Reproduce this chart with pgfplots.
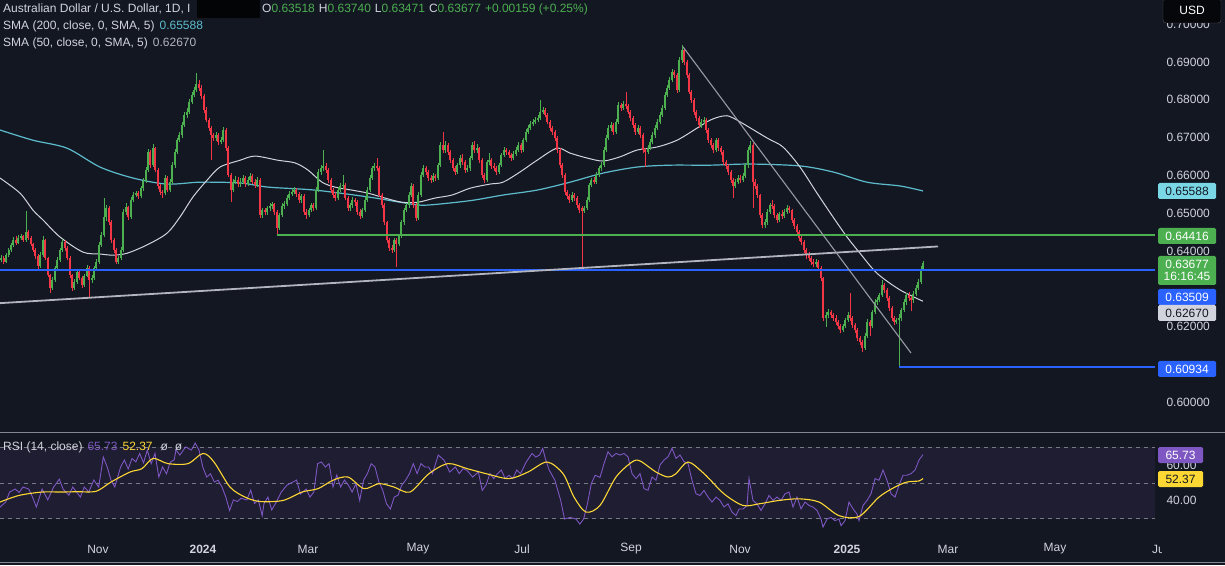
\documentclass[border=0pt]{standalone}
\usepackage{pgfplots}
\pgfplotsset{compat=1.18}
\usepackage{pgfplotstable}
\usepackage{fontspec}
\setmainfont{Liberation Sans}
\definecolor{bg}{HTML}{131722}
\definecolor{upc}{HTML}{4CAF50}
\definecolor{dnc}{HTML}{F23645}
\definecolor{bluc}{HTML}{2962FF}
\definecolor{cyn}{HTML}{5DBCCC}
\definecolor{cynbox}{HTML}{7AD8E6}
\definecolor{sma}{HTML}{D1D4DC}
\definecolor{trend}{HTML}{B2B5BE}
\definecolor{lbl}{HTML}{D1D4DC}
\definecolor{rsi}{HTML}{7E57C2}
\definecolor{rsima}{HTML}{FDD835}
\definecolor{band}{HTML}{1E1D32}
\definecolor{dashc}{HTML}{787B86}
\newcommand{\tvfont}{\fontsize{12}{14}\selectfont}

% daily AUD/USD candles, x = bar position
\pgfplotstableread{
x o h l c
1 0.6376 0.6390 0.6370 0.6381
3.5 0.6381 0.6386 0.6365 0.6371
6 0.6371 0.6394 0.6368 0.6389
8.5 0.6389 0.6408 0.6384 0.6402
11 0.6402 0.6421 0.6398 0.6416
13 0.6416 0.6436 0.6411 0.6429
16 0.6429 0.6440 0.6415 0.6421
18 0.6421 0.6441 0.6418 0.6434
21 0.6434 0.6446 0.6428 0.6439
23 0.6439 0.6443 0.6424 0.6429
26 0.6429 0.6505 0.6425 0.6450
28 0.6450 0.6455 0.6430 0.6434
31 0.6434 0.6440 0.6412 0.6418
33 0.6418 0.6422 0.6396 0.6402
35 0.6402 0.6408 0.6380 0.6387
38 0.6387 0.6391 0.6352 0.6360
40 0.6360 0.6396 0.6356 0.6389
43 0.6389 0.6440 0.6385 0.6429
45 0.6429 0.6432 0.6375 0.6381
48 0.6381 0.6385 0.6330 0.6336
50 0.6336 0.6340 0.6290 0.6302
52 0.6302 0.6330 0.6296 0.6323
55 0.6323 0.6360 0.6318 0.6355
57 0.6355 0.6383 0.6350 0.6376
60 0.6376 0.6408 0.6370 0.6402
62 0.6402 0.6432 0.6398 0.6424
65 0.6424 0.6430 0.6400 0.6408
67 0.6408 0.6412 0.6375 0.6381
70 0.6381 0.6386 0.6328 0.6336
72 0.6336 0.6340 0.6295 0.6302
74 0.6302 0.6325 0.6296 0.6318
77 0.6318 0.6350 0.6312 0.6344
79 0.6344 0.6352 0.6322 0.6328
82 0.6328 0.6335 0.6303 0.6310
84 0.6310 0.6340 0.6306 0.6334
87 0.6334 0.6362 0.6330 0.6355
89 0.6355 0.6360 0.6278 0.6323
92 0.6323 0.6336 0.6315 0.6328
94 0.6328 0.6360 0.6322 0.6355
96 0.6355 0.6378 0.6350 0.6371
99 0.6371 0.6424 0.6366 0.6416
101 0.6416 0.6450 0.6410 0.6442
104 0.6442 0.6540 0.6436 0.6489
106 0.6489 0.6522 0.6480 0.6513
109 0.6513 0.6518 0.6470 0.6476
111 0.6476 0.6482 0.6422 0.6429
114 0.6429 0.6434 0.6395 0.6402
116 0.6402 0.6408 0.6365 0.6371
118 0.6371 0.6388 0.6366 0.6381
121 0.6381 0.6410 0.6376 0.6402
123 0.6402 0.6510 0.6398 0.6503
126 0.6503 0.6528 0.6496 0.6516
128 0.6516 0.6520 0.6482 0.6489
131 0.6489 0.6542 0.6485 0.6535
133 0.6535 0.6556 0.6530 0.6548
136 0.6548 0.6560 0.6542 0.6553
138 0.6553 0.6558 0.6538 0.6545
141 0.6545 0.6572 0.6540 0.6566
143 0.6566 0.6592 0.6560 0.6585
146 0.6585 0.6622 0.6580 0.6614
148 0.6614 0.6670 0.6608 0.6662
150 0.6662 0.6668 0.6620 0.6627
153 0.6627 0.6682 0.6622 0.6672
155 0.6672 0.6676 0.6608 0.6614
158 0.6614 0.6620 0.6565 0.6572
160 0.6572 0.6578 0.6548 0.6556
162 0.6556 0.6562 0.6540 0.6553
165 0.6553 0.6600 0.6548 0.6593
167 0.6593 0.6598 0.6555 0.6561
170 0.6561 0.6590 0.6556 0.6582
172 0.6582 0.6635 0.6578 0.6627
175 0.6627 0.6670 0.6620 0.6662
177 0.6662 0.6700 0.6656 0.6693
179 0.6693 0.6716 0.6688 0.6707
182 0.6707 0.6740 0.6700 0.6733
184 0.6733 0.6768 0.6728 0.6760
187 0.6760 0.6778 0.6752 0.6768
189 0.6768 0.6802 0.6762 0.6794
192 0.6794 0.6820 0.6788 0.6813
194 0.6813 0.6835 0.6808 0.6826
196 0.6826 0.6871 0.6820 0.6842
199 0.6842 0.6852 0.6824 0.6831
201 0.6831 0.6838 0.6802 0.6810
204 0.6810 0.6815 0.6766 0.6773
206 0.6773 0.6780 0.6740 0.6746
209 0.6746 0.6752 0.6718 0.6725
211 0.6725 0.6730 0.6640 0.6707
213 0.6707 0.6712 0.6690 0.6699
216 0.6699 0.6716 0.6692 0.6707
218 0.6707 0.6712 0.6680 0.6688
221 0.6688 0.6702 0.6682 0.6693
223 0.6693 0.6728 0.6688 0.6720
226 0.6720 0.6726 0.6665 0.6672
228 0.6672 0.6678 0.6595 0.6601
231 0.6601 0.6606 0.6530 0.6561
233 0.6561 0.6590 0.6555 0.6582
235 0.6582 0.6598 0.6576 0.6587
238 0.6587 0.6595 0.6570 0.6577
240 0.6577 0.6592 0.6570 0.6582
243 0.6582 0.6600 0.6576 0.6593
245 0.6593 0.6598 0.6570 0.6577
248 0.6577 0.6595 0.6572 0.6587
250 0.6587 0.6606 0.6582 0.6598
252 0.6598 0.6603 0.6576 0.6582
255 0.6582 0.6590 0.6566 0.6574
257 0.6574 0.6596 0.6568 0.6587
260 0.6587 0.6592 0.6488 0.6495
262 0.6495 0.6515 0.6488 0.6508
265 0.6508 0.6514 0.6494 0.6503
267 0.6503 0.6520 0.6496 0.6513
270 0.6513 0.6526 0.6505 0.6519
272 0.6519 0.6530 0.6510 0.6524
274 0.6524 0.6528 0.6496 0.6503
277 0.6503 0.6508 0.6442 0.6460
279 0.6460 0.6500 0.6455 0.6495
282 0.6495 0.6526 0.6490 0.6519
284 0.6519 0.6532 0.6512 0.6524
287 0.6524 0.6548 0.6518 0.6540
289 0.6540 0.6558 0.6535 0.6550
292 0.6550 0.6566 0.6545 0.6556
294 0.6556 0.6570 0.6550 0.6561
296 0.6561 0.6566 0.6543 0.6550
299 0.6550 0.6555 0.6528 0.6535
301 0.6535 0.6552 0.6528 0.6545
304 0.6545 0.6550 0.6496 0.6503
306 0.6503 0.6510 0.6485 0.6495
309 0.6495 0.6515 0.6490 0.6508
311 0.6508 0.6528 0.6502 0.6521
313 0.6521 0.6526 0.6506 0.6513
316 0.6513 0.6568 0.6508 0.6561
318 0.6561 0.6616 0.6555 0.6609
321 0.6609 0.6628 0.6602 0.6619
323 0.6619 0.6667 0.6612 0.6625
326 0.6625 0.6632 0.6606 0.6614
328 0.6614 0.6620 0.6580 0.6587
331 0.6587 0.6592 0.6554 0.6561
333 0.6561 0.6566 0.6540 0.6548
335 0.6548 0.6555 0.6532 0.6540
338 0.6540 0.6568 0.6535 0.6561
340 0.6561 0.6580 0.6556 0.6572
343 0.6572 0.6600 0.6565 0.6574
345 0.6574 0.6580 0.6534 0.6540
348 0.6540 0.6546 0.6505 0.6513
350 0.6513 0.6528 0.6506 0.6521
352 0.6521 0.6542 0.6515 0.6535
355 0.6535 0.6540 0.6520 0.6529
357 0.6529 0.6535 0.6496 0.6503
360 0.6503 0.6510 0.6485 0.6492
362 0.6492 0.6515 0.6488 0.6508
365 0.6508 0.6542 0.6502 0.6535
367 0.6535 0.6568 0.6530 0.6561
370 0.6561 0.6600 0.6555 0.6593
372 0.6593 0.6626 0.6588 0.6619
374 0.6619 0.6634 0.6612 0.6625
377 0.6625 0.6646 0.6612 0.6619
379 0.6619 0.6624 0.6542 0.6548
382 0.6548 0.6553 0.6514 0.6521
384 0.6521 0.6526 0.6470 0.6476
387 0.6476 0.6480 0.6422 0.6429
389 0.6429 0.6434 0.6400 0.6408
392 0.6408 0.6415 0.6394 0.6402
394 0.6402 0.6435 0.6398 0.6429
396 0.6429 0.6434 0.6357 0.6418
399 0.6418 0.6445 0.6412 0.6439
401 0.6439 0.6482 0.6434 0.6476
404 0.6476 0.6515 0.6470 0.6508
406 0.6508 0.6528 0.6502 0.6521
409 0.6521 0.6555 0.6515 0.6548
411 0.6548 0.6580 0.6542 0.6572
413 0.6572 0.6576 0.6515 0.6521
416 0.6521 0.6526 0.6478 0.6487
418 0.6487 0.6555 0.6482 0.6548
421 0.6548 0.6608 0.6542 0.6601
423 0.6601 0.6628 0.6596 0.6619
426 0.6619 0.6624 0.6600 0.6609
428 0.6609 0.6614 0.6586 0.6593
431 0.6593 0.6600 0.6580 0.6587
433 0.6587 0.6605 0.6582 0.6598
435 0.6598 0.6604 0.6585 0.6593
438 0.6593 0.6634 0.6588 0.6627
440 0.6627 0.6688 0.6622 0.6680
443 0.6680 0.6715 0.6660 0.6667
445 0.6667 0.6690 0.6660 0.6680
448 0.6680 0.6686 0.6655 0.6662
450 0.6662 0.6668 0.6632 0.6640
453 0.6640 0.6645 0.6612 0.6619
455 0.6619 0.6625 0.6600 0.6609
457 0.6609 0.6634 0.6603 0.6627
460 0.6627 0.6654 0.6620 0.6646
462 0.6646 0.6656 0.6628 0.6635
465 0.6635 0.6640 0.6606 0.6614
467 0.6614 0.6628 0.6608 0.6619
470 0.6619 0.6652 0.6612 0.6646
472 0.6646 0.6688 0.6640 0.6680
474 0.6680 0.6690 0.6660 0.6667
477 0.6667 0.6682 0.6660 0.6672
479 0.6672 0.6676 0.6632 0.6640
482 0.6640 0.6645 0.6594 0.6601
484 0.6601 0.6606 0.6580 0.6587
487 0.6587 0.6642 0.6582 0.6635
489 0.6635 0.6660 0.6628 0.6640
491 0.6640 0.6646 0.6618 0.6625
494 0.6625 0.6632 0.6612 0.6619
496 0.6619 0.6624 0.6600 0.6609
499 0.6609 0.6634 0.6603 0.6627
501 0.6627 0.6660 0.6622 0.6654
504 0.6654 0.6674 0.6648 0.6667
506 0.6667 0.6672 0.6655 0.6662
509 0.6662 0.6668 0.6647 0.6654
511 0.6654 0.6660 0.6638 0.6646
513 0.6646 0.6664 0.6640 0.6656
516 0.6656 0.6674 0.6650 0.6667
518 0.6667 0.6688 0.6662 0.6680
521 0.6680 0.6685 0.6660 0.6667
523 0.6667 0.6700 0.6662 0.6693
526 0.6693 0.6722 0.6688 0.6715
528 0.6715 0.6732 0.6710 0.6725
530 0.6725 0.6744 0.6720 0.6736
533 0.6736 0.6750 0.6730 0.6741
535 0.6741 0.6754 0.6735 0.6746
538 0.6746 0.6760 0.6740 0.6752
540 0.6752 0.6799 0.6746 0.6768
543 0.6768 0.6782 0.6762 0.6773
545 0.6773 0.6778 0.6754 0.6760
547 0.6760 0.6766 0.6735 0.6741
550 0.6741 0.6746 0.6718 0.6725
552 0.6725 0.6730 0.6708 0.6715
555 0.6715 0.6720 0.6692 0.6699
557 0.6699 0.6704 0.6660 0.6667
560 0.6667 0.6672 0.6620 0.6627
562 0.6627 0.6632 0.6594 0.6601
565 0.6601 0.6606 0.6548 0.6556
567 0.6556 0.6562 0.6538 0.6545
569 0.6545 0.6552 0.6528 0.6535
572 0.6535 0.6556 0.6530 0.6548
574 0.6548 0.6554 0.6532 0.6540
577 0.6540 0.6545 0.6514 0.6521
579 0.6521 0.6526 0.6500 0.6508
582 0.6515 0.6520 0.6350 0.6506
584 0.6506 0.6520 0.6500 0.6513
587 0.6513 0.6542 0.6508 0.6535
589 0.6535 0.6580 0.6530 0.6574
591 0.6574 0.6594 0.6568 0.6587
594 0.6587 0.6595 0.6576 0.6582
596 0.6582 0.6608 0.6576 0.6601
599 0.6601 0.6626 0.6596 0.6619
601 0.6619 0.6635 0.6612 0.6627
604 0.6627 0.6674 0.6622 0.6667
606 0.6667 0.6706 0.6662 0.6699
608 0.6699 0.6732 0.6694 0.6725
611 0.6725 0.6740 0.6718 0.6733
613 0.6733 0.6738 0.6708 0.6715
616 0.6715 0.6748 0.6710 0.6741
618 0.6741 0.6794 0.6736 0.6786
621 0.6786 0.6792 0.6770 0.6778
623 0.6778 0.6798 0.6772 0.6789
626 0.6789 0.6821 0.6776 0.6784
628 0.6784 0.6790 0.6762 0.6768
630 0.6768 0.6774 0.6745 0.6752
633 0.6752 0.6758 0.6726 0.6733
635 0.6733 0.6738 0.6708 0.6715
638 0.6715 0.6732 0.6710 0.6725
640 0.6725 0.6730 0.6700 0.6707
643 0.6707 0.6712 0.6660 0.6667
645 0.6667 0.6672 0.6622 0.6662
648 0.6662 0.6680 0.6656 0.6672
650 0.6672 0.6695 0.6666 0.6688
652 0.6688 0.6714 0.6682 0.6707
655 0.6707 0.6732 0.6700 0.6725
657 0.6725 0.6748 0.6720 0.6741
660 0.6741 0.6768 0.6735 0.6760
662 0.6760 0.6786 0.6754 0.6778
665 0.6778 0.6820 0.6772 0.6813
667 0.6813 0.6840 0.6808 0.6831
669 0.6831 0.6860 0.6826 0.6852
672 0.6852 0.6882 0.6846 0.6874
674 0.6874 0.6880 0.6858 0.6866
677 0.6866 0.6872 0.6818 0.6826
679 0.6826 0.6912 0.6820 0.6905
682 0.6905 0.6945 0.6898 0.6932
684 0.6932 0.6938 0.6892 0.6900
687 0.6900 0.6905 0.6858 0.6866
689 0.6866 0.6872 0.6814 0.6821
691 0.6821 0.6826 0.6792 0.6799
694 0.6799 0.6804 0.6760 0.6768
696 0.6768 0.6774 0.6745 0.6752
699 0.6752 0.6758 0.6726 0.6733
701 0.6733 0.6748 0.6726 0.6741
704 0.6741 0.6754 0.6735 0.6746
706 0.6746 0.6752 0.6712 0.6720
708 0.6720 0.6726 0.6686 0.6693
711 0.6693 0.6700 0.6672 0.6680
713 0.6680 0.6686 0.6660 0.6667
716 0.6667 0.6700 0.6662 0.6693
718 0.6693 0.6698 0.6665 0.6672
721 0.6672 0.6678 0.6655 0.6662
723 0.6662 0.6668 0.6628 0.6635
726 0.6635 0.6640 0.6618 0.6625
728 0.6625 0.6630 0.6602 0.6609
731 0.6609 0.6614 0.6580 0.6587
733 0.6587 0.6592 0.6540 0.6572
735 0.6572 0.6590 0.6566 0.6582
738 0.6582 0.6600 0.6576 0.6593
740 0.6593 0.6600 0.6580 0.6587
743 0.6587 0.6605 0.6582 0.6598
745 0.6598 0.6634 0.6592 0.6627
748 0.6627 0.6674 0.6620 0.6667
750 0.6667 0.6690 0.6660 0.6680
753 0.6680 0.6686 0.6515 0.6582
755 0.6582 0.6590 0.6565 0.6572
757 0.6572 0.6578 0.6540 0.6548
760 0.6548 0.6552 0.6488 0.6495
762 0.6495 0.6500 0.6460 0.6468
765 0.6468 0.6484 0.6462 0.6476
767 0.6476 0.6510 0.6470 0.6503
770 0.6503 0.6528 0.6498 0.6521
772 0.6521 0.6534 0.6512 0.6519
774 0.6519 0.6524 0.6488 0.6495
777 0.6495 0.6500 0.6475 0.6482
779 0.6482 0.6504 0.6476 0.6497
782 0.6497 0.6508 0.6485 0.6492
784 0.6492 0.6510 0.6486 0.6503
787 0.6503 0.6522 0.6498 0.6513
789 0.6513 0.6520 0.6500 0.6508
792 0.6508 0.6512 0.6475 0.6482
794 0.6482 0.6488 0.6458 0.6466
797 0.6466 0.6472 0.6442 0.6450
799 0.6450 0.6456 0.6426 0.6434
801 0.6434 0.6440 0.6416 0.6424
804 0.6424 0.6430 0.6395 0.6402
806 0.6402 0.6408 0.6380 0.6389
809 0.6389 0.6396 0.6374 0.6381
811 0.6381 0.6386 0.6364 0.6371
813 0.6371 0.6378 0.6358 0.6365
816 0.6365 0.6380 0.6358 0.6371
818 0.6371 0.6376 0.6348 0.6355
821 0.6355 0.6360 0.6320 0.6328
823 0.6328 0.6332 0.6215 0.6222
826 0.6222 0.6238 0.6200 0.6230
828 0.6230 0.6246 0.6224 0.6238
831 0.6238 0.6244 0.6222 0.6230
833 0.6230 0.6236 0.6215 0.6222
836 0.6222 0.6230 0.6205 0.6212
838 0.6212 0.6218 0.6194 0.6201
840 0.6201 0.6206 0.6182 0.6191
843 0.6191 0.6208 0.6185 0.6201
845 0.6201 0.6224 0.6196 0.6217
848 0.6217 0.6238 0.6212 0.6230
850 0.6230 0.6290 0.6215 0.6222
852 0.6222 0.6228 0.6196 0.6204
855 0.6204 0.6210 0.6184 0.6191
857 0.6191 0.6196 0.6162 0.6169
860 0.6169 0.6175 0.6150 0.6159
862 0.6159 0.6164 0.6134 0.6143
865 0.6143 0.6182 0.6138 0.6175
867 0.6175 0.6220 0.6170 0.6212
870 0.6212 0.6218 0.6175 0.6201
872 0.6201 0.6245 0.6196 0.6238
875 0.6238 0.6272 0.6232 0.6265
877 0.6265 0.6278 0.6258 0.6270
879 0.6270 0.6290 0.6264 0.6283
882 0.6283 0.6322 0.6278 0.6310
884 0.6310 0.6316 0.6290 0.6297
887 0.6297 0.6302 0.6268 0.6275
889 0.6275 0.6280 0.6242 0.6249
892 0.6249 0.6254 0.6215 0.6222
894 0.6222 0.6228 0.6204 0.6212
896 0.6212 0.6224 0.6206 0.6217
899 0.6217 0.6232 0.6093 0.6222
901 0.6222 0.6250 0.6216 0.6244
904 0.6244 0.6272 0.6238 0.6265
906 0.6265 0.6290 0.6258 0.6283
909 0.6283 0.6292 0.6268 0.6275
911 0.6275 0.6282 0.6240 0.6270
913 0.6270 0.6294 0.6262 0.6286
916 0.6286 0.6310 0.6280 0.6302
918 0.6302 0.6326 0.6296 0.6318
921 0.6318 0.6360 0.6312 0.6352
923 0.63518 0.63740 0.63471 0.63677
}\candles

\pgfplotstableread{
x v
0 0.6720
33 0.6693
67 0.6672
100 0.6622
133 0.6593
167 0.6577
200 0.6582
240 0.6580
268 0.6569
315 0.6561
368 0.6543
400 0.6529
422 0.6521
450 0.6527
475 0.6535
503 0.6548
537 0.6561
570 0.6582
603 0.6606
637 0.6622
670 0.6627
710 0.6627
750 0.6630
800 0.6625
833 0.6609
867 0.6582
900 0.6572
923 0.65588
}\smaLong

\pgfplotstableread{
x v
0 0.6593
20 0.6553
33 0.6508
43 0.6482
60 0.6437
83 0.6397
100 0.6392
113 0.6389
127 0.6394
147 0.6416
167 0.6447
180 0.6490
193 0.6543
207 0.6587
220 0.6622
240 0.6640
255 0.6651
278 0.6640
295 0.6633
308 0.6614
322 0.6582
335 0.6569
352 0.6561
368 0.6553
385 0.6540
402 0.6529
418 0.6529
435 0.6540
452 0.6548
470 0.6566
490 0.6577
503 0.6582
520 0.6609
537 0.6640
557 0.6672
570 0.6659
587 0.6646
603 0.6638
620 0.6649
637 0.6667
657 0.6675
677 0.6693
697 0.6725
710 0.6746
723 0.6757
733 0.6752
767 0.6699
783 0.6675
800 0.6622
817 0.6553
833 0.6490
847 0.6437
860 0.6394
877 0.6341
900 0.6297
923 0.62670
}\smaShort

\pgfplotstableread{
x v
0 36.4
5.7 39.2
9.6 44.8
15.3 46.5
19.1 44.5
23 47.6
28.7 46.5
32.5 42
36.4 36.4
42.1 46.5
47.8 40.4
53.6 47.6
59.3 52
63.1 46.5
68.9 43
72.7 47.6
76.5 44.8
80.4 42
84.2 47.6
88.8 44.8
93.8 51.5
98.7 47.6
103.3 64.4
107.2 58.8
111 51.5
114.8 47.6
120.6 58.8
124.4 62.7
128.2 57.7
132 63.6
135.9 61.7
139.7 66.4
143.5 61.1
147.3 68.3
151.2 60.7
155 66.4
158.8 53.2
162.6 58.8
166.5 55
170.3 61.6
174.1 62.7
176 68.3
179.9 65.5
185.6 70
191.4 68.3
195.2 72.2
199 68.3
202.8 58.8
206.7 53.2
210.5 55
214.3 50.4
218.1 51.4
222 47.6
225.8 42
229.6 34.5
233.4 40.4
237.3 39.5
241.1 41.3
246.8 40.4
250.7 45.9
254.5 38.4
258.3 40.4
262.2 31.6
264 38.4
267.9 42
271.7 34.8
275.5 38.4
281.3 44.8
287 48.7
292.8 50.4
296.6 51.5
300.4 43.7
306.2 46.5
310 42
313.8 44.8
317.6 60.7
321.5 61.6
325.3 58.8
329.1 60.7
333 47.6
336.8 54.3
340.6 47.6
344.4 51.5
348.3 48.7
352.1 44.8
355.9 49.5
359.7 40.1
363.6 51.5
367.4 55.1
371.2 60.7
375 58.8
378.9 50.4
382.7 45.9
386.5 38.2
390.4 35.3
394.2 42
398 43
401.8 48.7
405.7 51.5
409.5 55.1
413.3 60.7
417.1 55.1
421 60.7
424.8 58.8
428.6 58.8
432.5 55.1
438.2 65.5
444 62.7
449.7 56
455.4 58.8
459.2 55.1
463.1 57.9
466.9 57
472.6 53.2
478.4 56
482.2 45.7
486 48.7
489.9 55.1
493.7 52.3
497.5 55.1
501.3 57.1
505.2 52.3
509 54.2
512.8 52.3
516.7 57.1
520.5 55.1
526.2 61.6
532 66.4
535.8 64.4
539.6 65.5
542.7 69.2
545.3 63.6
549.2 57.1
554.9 51.4
560.7 40.1
564.5 29.7
570.2 30.6
576 29.7
579.8 26.9
583.6 29.7
587.4 38.2
591.3 49.5
595.1 54.2
600 53
604 60.7
608 67.3
612 64.5
616 66.4
620 65.5
624 66.4
628 64.5
632 55.1
636 52.3
640 55.1
644 46.7
648 45.8
652 53.2
656 51.4
660 59.9
664 62.7
668 64.5
672 69.2
676 63.6
680 65.5
684 61.8
688 60.8
692 51.4
696 43.8
700 42.9
704 45.7
708 42
712 39.2
716 42
720 40.1
724 36.4
728 38.2
732 33.6
736 31.6
739 35.3
743 35.3
747 37.2
749 52.3
753 40.1
757 38.2
761 34.5
765 38.2
769 42.9
773 40.1
777 42
781 40.1
785 43.8
789 44.8
793 36.4
797 42
801 35.4
805 39.2
809 37.3
813 36.4
817 34.5
821 29.7
823 25.2
827 29.7
831 30.6
835 28.8
839 29.7
841 26
845 28.8
849 39.2
853 35.4
857 32.5
859 28.8
863 37.3
867 40.1
871 43.8
875 52.3
879 51.4
883 57.1
887 51.4
891 43.8
895 42
899 48.6
903 54.2
907 54.2
911 55.1
915 57.1
919 62.7
923 65.73
}\rsiline

\pgfplotstableread{
x v
0 39.2
19 42.9
42 44.8
61 44.8
77 45
96 45.2
111 50.4
130 56
142 57.9
153 63.6
168 60.7
188 60.7
203 66.4
214 61.6
230 47.6
245 42
260 39.5
283 40.1
302 44.8
318 46.7
333 51.4
348 53.2
364 46.7
379 49.5
394 47.6
410 44.8
429 55.1
448 60.7
467 57.9
486 55.1
509 52.3
528 56
547 61.6
563 55.1
574 42
586 33.6
600 37.3
616 53.2
632 61.6
640 62.2
656 56
668 53.2
676 55.1
688 61.6
704 55.1
724 43.8
743 37.3
759 38.2
779 40.1
799 41
819 39.2
839 31.6
859 31.1
879 42
895 47.6
907 50.4
919 51
923 52.37
}\rsima

\begin{document}
\begin{tikzpicture}[x=1pt,y=1pt]
\fill[bg] (0,0) rectangle (1225,565);
\useasboundingbox (0,0) rectangle (1225,565);

% price panel
\begin{axis}[at={(0pt,565pt)}, anchor=north west, scale only axis,
  width=1155pt, height=432pt,
  xmin=0, xmax=1155, ymin=0.59211, ymax=0.70640,
  axis line style={draw=none}, tick style={draw=none},
  xtick=\empty, ytick={0.60,0.62,0.64,0.65,0.66,0.67,0.68,0.69,0.70},
  yticklabel pos=right,
  yticklabel style={anchor=west, xshift=8pt, text=lbl, font=\tvfont,
    /pgf/number format/.cd, fixed, fixed zerofill, precision=5, assume math mode=true}]

  % moving averages
  \addplot[draw=cyn, line width=1.2pt, smooth] table[x=x, y=v] {\smaLong};
  \addplot[draw=sma, line width=1pt, smooth] table[x=x, y=v] {\smaShort};

  % candles: wicks low->high, bodies open->close
  \addplot[draw=upc, line width=1pt, line cap=butt, restrict expr to domain={\thisrow{c}-\thisrow{o}}{0:1},
    quiver={u=0, v={\thisrow{h}-\thisrow{l}}}]
    table[x=x, y=l] {\candles};
  \addplot[draw=dnc, line width=1pt, line cap=butt, restrict expr to domain={\thisrow{c}-\thisrow{o}}{-1:-0.000001},
    quiver={u=0, v={\thisrow{h}-\thisrow{l}}}]
    table[x=x, y=l] {\candles};
  \addplot[draw=upc, line width=2pt, line cap=butt, restrict expr to domain={\thisrow{c}-\thisrow{o}}{0:1},
    quiver={u=0, v={\thisrow{c}-\thisrow{o}}}]
    table[x=x, y=o] {\candles};
  \addplot[draw=dnc, line width=2pt, line cap=butt, restrict expr to domain={\thisrow{c}-\thisrow{o}}{-1:-0.000001},
    quiver={u=0, v={\thisrow{c}-\thisrow{o}}}]
    table[x=x, y=o] {\candles};

  % levels and trend lines
  \addplot[draw=bluc, line width=2pt] coordinates {(0,0.63509) (1155,0.63509)};
  \addplot[draw=upc, line width=2pt] coordinates {(277,0.64416) (1155,0.64416)};
  \addplot[draw=bluc, line width=2pt] coordinates {(899,0.60934) (1155,0.60934)};
  \addplot[draw=trend, line width=1.8pt] coordinates {(0,0.6262) (938,0.6412)};
  \addplot[draw=trend!85!black, line width=1.1pt] coordinates {(683,0.6940) (911,0.6130)};
\end{axis}

% RSI panel
\begin{axis}[at={(0pt,132pt)}, anchor=north west, scale only axis,
  width=1155pt, height=102pt,
  xmin=0, xmax=1155, ymin=20.77, ymax=77.83,
  axis line style={draw=none}, tick style={draw=none},
  xtick={98,203,308,418,522,631,740,847,948,1055},
  xticklabels={Nov,\textbf{2024},Mar,May,Jul,Sep,Nov,\textbf{2025},Mar,May},
  xticklabel style={anchor=center, yshift=-14pt, text=lbl, font=\tvfont},
  ytick={40,60}, yticklabel pos=right,
  yticklabel style={anchor=west, xshift=8pt, text=lbl, font=\tvfont,
    /pgf/number format/.cd, fixed, fixed zerofill, precision=2, assume math mode=true}]
  \fill[band] (axis cs:0,30) rectangle (axis cs:1155,70);
  \draw[dashc, dash pattern=on 4pt off 4pt] (axis cs:0,70) -- (axis cs:1155,70);
  \draw[dashc, dash pattern=on 4pt off 4pt] (axis cs:0,50) -- (axis cs:1155,50);
  \draw[dashc, dash pattern=on 4pt off 4pt] (axis cs:0,30) -- (axis cs:1155,30);
  \addplot[draw=rsi, line width=0.9pt] table[x=x, y=v] {\rsiline};
  \addplot[draw=rsima, line width=1.1pt, smooth] table[x=x, y=v] {\rsima};
\end{axis}

% panel separators
\draw[trend!70!bg, line width=1pt] (0,133) -- (1225,133);
\draw[trend!70!bg, line width=1pt] (0,3) -- (1225,3);

% Ju cut by the price scale
\begin{scope}
  \clip (1140,0) rectangle (1161,40);
  \node[text=lbl, font=\tvfont, anchor=west, inner sep=0] at (1152,16) {Jun};
\end{scope}

% header
\begin{scope}[every node/.style={anchor=west, inner sep=0, font=\tvfont, text=lbl}]
  \node at (3,556) {Australian Dollar / U.S. Dollar, 1D, I};
  \fill[black!85!bg] (197,547) rectangle (260,565);
  \node at (262,556) {O\textcolor{upc}{0.63518}\hspace{4pt}H\textcolor{upc}{0.63740}\hspace{4pt}L\textcolor{upc}{0.63471}\hspace{4pt}C\textcolor{upc}{0.63677}\hspace{4pt}\textcolor{upc}{+0.00159 (+0.25\%)}};
  \node at (3,539) {SMA (200, close, 0, SMA, 5)\hspace{5pt}\textcolor{cyn}{0.65588}};
  \node at (3,522) {SMA (50, close, 0, SMA, 5)\hspace{5pt}\textcolor{trend}{0.62670}};
  \node at (3,118) {RSI (14, close)\hspace{5pt}\textcolor{rsi}{65.73}\hspace{5pt}\textcolor{rsima}{52.37}\hspace{8pt}ø\hspace{7pt}ø};
\end{scope}

% price scale labels
\begin{scope}[every node/.style={inner sep=0, minimum width=58pt, minimum height=16pt,
    font=\tvfont, rounded corners=1.5pt}]
  \node[fill=cynbox, text=bg] at (1187,374) {0.65588};
  \node[fill=upc, text=white] at (1187,329) {0.64416};
  \node[fill=upc, text=white, minimum height=29pt, align=center] at (1187,294.5) {0.63677\\[-2pt]16:16:45};
  \node[fill=bluc, text=white] at (1187,268) {0.63509};
  \node[fill=sma, text=bg] at (1187,252) {0.62670};
  \node[fill=bluc, text=white] at (1187,196) {0.60934};
  \node[fill=rsi, text=white, minimum width=45pt] at (1180.5,110) {65.73};
  \node[fill=rsima, text=bg, minimum width=45pt] at (1180.5,86) {52.37};
  \node[draw=dashc!60!bg, fill=black!70!bg, text=white, minimum width=58pt, minimum height=25pt, rounded corners=3pt] at (1192,554.5) {USD};
\end{scope}
\end{tikzpicture}
\end{document}
